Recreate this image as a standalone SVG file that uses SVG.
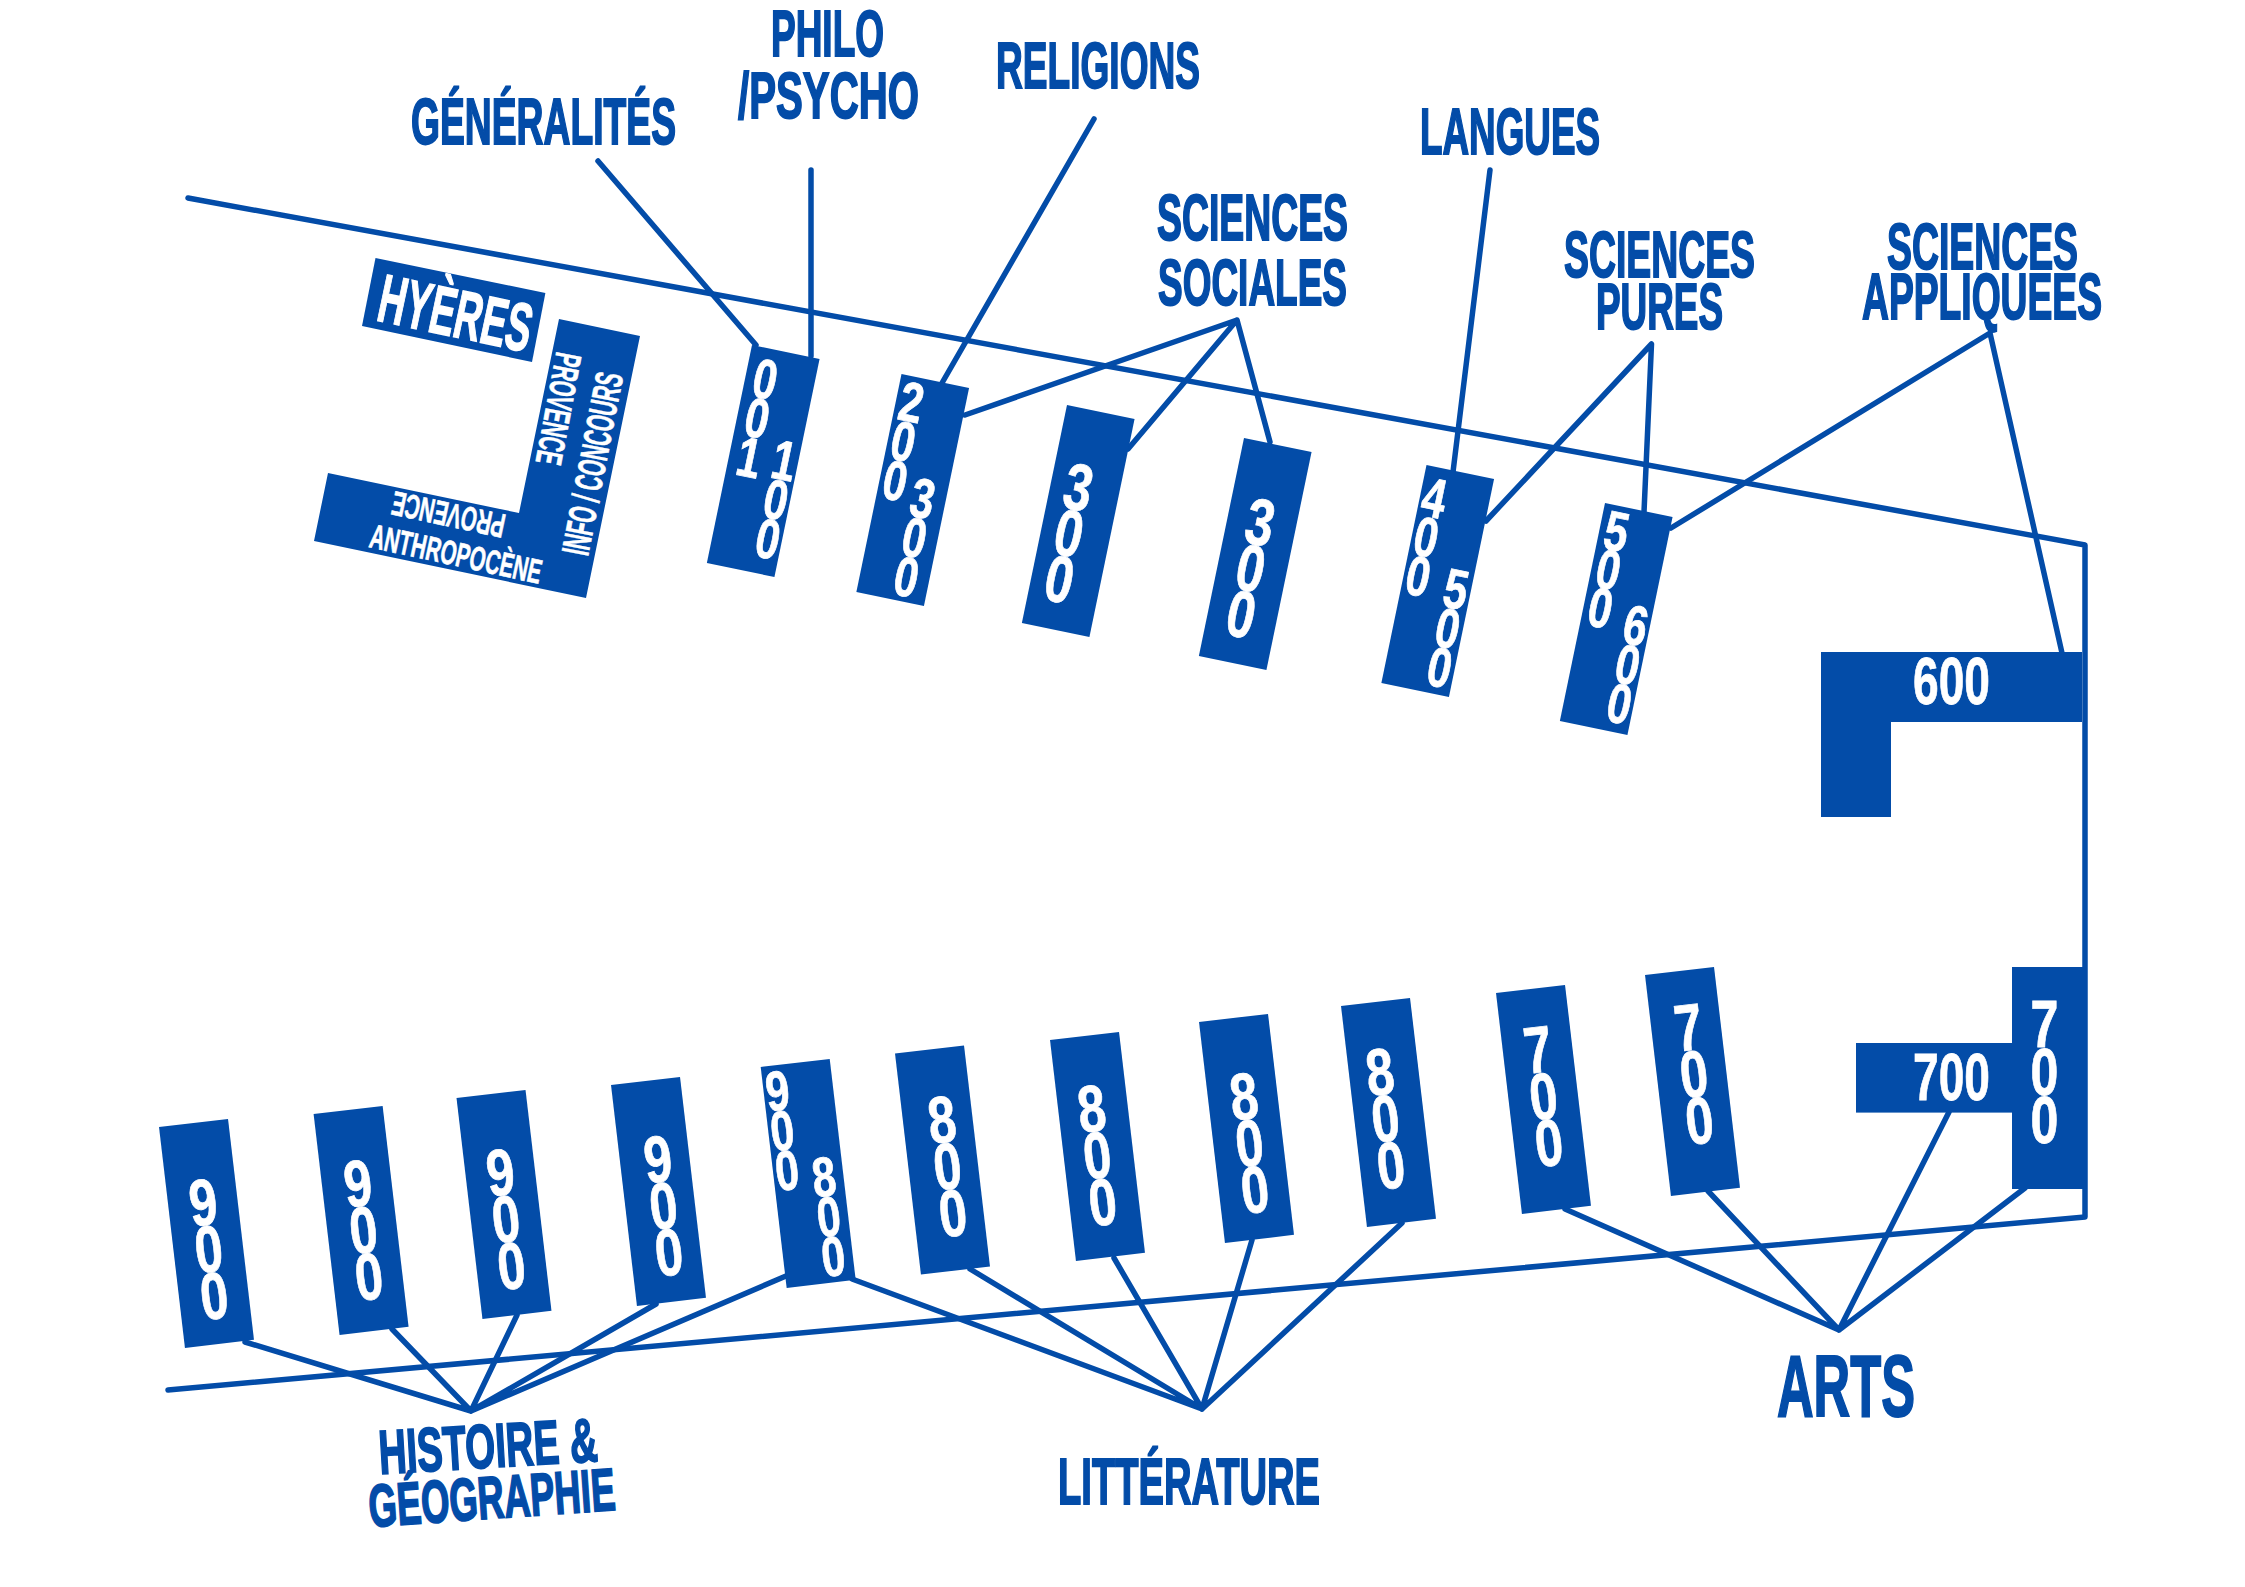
<svg xmlns="http://www.w3.org/2000/svg" width="2245" height="1587" viewBox="0 0 2245 1587">
<style>
.bg{fill:#fff}
.c{fill:none;stroke:#034CA8;stroke-width:5.5;stroke-linecap:round;stroke-linejoin:round}
.n{fill:#034CA8}
.l{font-family:"Liberation Sans",Arial,sans-serif;font-weight:700;fill:#034CA8;stroke:#034CA8;stroke-width:1.9;font-size:65px}
.w{font-family:"Liberation Sans",Arial,sans-serif;font-weight:700;fill:#fff}
.d{font-size:66px;text-anchor:middle;stroke:#fff;stroke-width:.8}
.s{font-size:56px;text-anchor:middle;stroke:#fff;stroke-width:.8}
</style>
<rect class="bg" width="2245" height="1587"/>
<g id="connectors" class="c">
<path d="M188 198L2085 545V1217L168 1390"/>
<path d="M598 161L756 345"/>
<path d="M811 170V356"/>
<path d="M1094 119L942 383"/>
<path d="M965 415L1237 320L1128 449M1237 320L1270 442"/>
<path d="M1490 170L1453 472"/>
<path d="M1486 521L1651.5 344L1644 512"/>
<path d="M1671 528L1990 333L2062 653"/>
<path d="M245 1342L471 1411L392 1329M471 1411L517 1315M471 1411L656 1304M471 1411L786 1276"/>
<path d="M852 1279L1202 1409L970 1269M1202 1409L1114 1258M1202 1409L1252 1240M1202 1409L1402 1223"/>
<path d="M1565 1209L1839 1330L1708 1191M1839 1330L1949 1112M1839 1330L2025 1188"/>
</g>
<g id="hyeres">
<polygon class="n" points="375.5,258 545.4,293 532,362 362,326"/>
<text class="w" transform="translate(375 320) rotate(12)" font-size="68" textLength="155" lengthAdjust="spacingAndGlyphs" stroke="#fff" stroke-width="1.4">HYÈRES</text>
</g>
<g id="info">
<polygon class="n" points="559,319 640,336 586,598 314,541 328,473 519,513"/>
<text class="w" transform="translate(588 557) rotate(-79)" font-size="39" textLength="185" lengthAdjust="spacingAndGlyphs" stroke="#fff" stroke-width=".6">INFO / CONCOURS</text>
<text class="w" transform="translate(556.6 351) rotate(100.7)" font-size="37" textLength="113" lengthAdjust="spacingAndGlyphs" stroke="#fff" stroke-width=".6">PROVENCE</text>
<text class="w" transform="translate(507 515) rotate(192)" font-size="34" textLength="115" lengthAdjust="spacingAndGlyphs" stroke="#fff" stroke-width=".6">PROVENCE</text>
<text class="w" transform="translate(368 547) rotate(12.2)" font-size="34" textLength="175" lengthAdjust="spacingAndGlyphs" stroke="#fff" stroke-width=".6">ANTHROPOCÈNE</text>
</g>
<g id="n-000-100" transform="translate(752 345) rotate(11.7)"><rect class="n" width="69" height="222.6"/>
<text class="w s" transform="translate(20 0) scale(.76 1)" x="0 0 0" y="50 90 130">001</text>
<text class="w s" transform="translate(55 0) scale(.76 1)" x="0 0 0" y="126 166 206">100</text></g>
<g id="n-200-300" transform="translate(901.5 374) rotate(11.7)"><rect class="n" width="69" height="222.6"/>
<text class="w s" transform="translate(15.5 0) scale(.76 1)" x="0 0 0" y="45 85 125">200</text>
<text class="w s" transform="translate(46 0) scale(.76 1)" x="0 0 0" y="137 177 217">300</text></g>
<g id="n-300a" transform="translate(1067 405) rotate(11.7)"><rect class="n" width="69" height="222.6"/>
<text class="w d" transform="translate(28 0) scale(.76 1)" x="0 0 0" y="101 148 195">300</text></g>
<g id="n-300b" transform="translate(1244 438) rotate(11.7)"><rect class="n" width="69" height="222.6"/>
<text class="w d" transform="translate(33 0) scale(.76 1)" x="0 0 0" y="102 149 196">300</text></g>
<g id="n-400-500" transform="translate(1426.5 465) rotate(11.7)"><rect class="n" width="69" height="222.6"/>
<text class="w s" transform="translate(14.4 0) scale(.76 1)" x="0 0 0" y="50 90 130">400</text>
<text class="w s" transform="translate(54 0) scale(.76 1)" x="0 0 0" y="135 175 215">500</text></g>
<g id="n-500-600" transform="translate(1605 503) rotate(11.7)"><rect class="n" width="69" height="222.6"/>
<text class="w s" transform="translate(17 0) scale(.76 1)" x="0 0 0" y="45 84 123">500</text>
<text class="w s" transform="translate(55 0) scale(.76 1)" x="0 0 0" y="133 173 213">600</text></g>
<g id="n-600">
<polygon class="n" points="1821,652 2082,652 2082,722 1891,722 1891,817 1821,817"/>
<text class="w" x="1913" y="704" font-size="66" textLength="77" lengthAdjust="spacingAndGlyphs" stroke="#fff" stroke-width=".8">600</text>
</g>
<g id="n-700-h">
<rect class="n" x="1856" y="1043" width="157" height="69.6"/>
<text class="w" x="1913" y="1099.5" font-size="66" textLength="77" lengthAdjust="spacingAndGlyphs" stroke="#fff" stroke-width=".8">700</text>
</g>
<g id="n-700-v">
<rect class="n" x="2012" y="967" width="74" height="222"/>
<text class="w d" transform="translate(2044.5 0) scale(.76 1)" x="0 0 0" y="1047 1095 1143">700</text>
</g>
<g id="n-900a" transform="translate(159 1127) rotate(-6.7)"><rect class="n" width="69.5" height="222.5"/>
<text class="w d" transform="translate(35 0) scale(.76 1)" x="0 0 0" y="103 150 197">900</text></g>
<g id="n-900b" transform="translate(313.6 1114) rotate(-6.7)"><rect class="n" width="69.5" height="222.5"/>
<text class="w d" transform="translate(36 0) scale(.76 1)" x="0 0 0" y="97 144 191">900</text></g>
<g id="n-900c" transform="translate(456.5 1098) rotate(-6.7)"><rect class="n" width="69.5" height="222.5"/>
<text class="w d" transform="translate(35 0) scale(.76 1)" x="0 0 0" y="102 149 196">900</text></g>
<g id="n-900d" transform="translate(611 1085) rotate(-6.7)"><rect class="n" width="69.5" height="222.5"/>
<text class="w d" transform="translate(38 0) scale(.76 1)" x="0 0 0" y="102 149 196">900</text></g>
<g id="n-900-800" transform="translate(760.7 1067) rotate(-6.7)"><rect class="n" width="69.5" height="222.5"/>
<text class="w s" transform="translate(14 0) scale(.76 1)" x="0 0 0" y="45 85 125">900</text>
<text class="w s" transform="translate(50 0) scale(.76 1)" x="0 0 0" y="136 176 216">800</text></g>
<g id="n-800a" transform="translate(895 1053.6) rotate(-6.7)"><rect class="n" width="69.5" height="222.5"/>
<text class="w d" transform="translate(39 0) scale(.76 1)" x="0 0 0" y="94 141 188">800</text></g>
<g id="n-800b" transform="translate(1050 1040) rotate(-6.7)"><rect class="n" width="69.5" height="222.5"/>
<text class="w d" transform="translate(33.4 0) scale(.76 1)" x="0 0 0" y="96 143 190">800</text></g>
<g id="n-800c" transform="translate(1199 1022) rotate(-6.7)"><rect class="n" width="69.5" height="222.5"/>
<text class="w d" transform="translate(36 0) scale(.76 1)" x="0 0 0" y="102 149 196">800</text></g>
<g id="n-800d" transform="translate(1341 1006) rotate(-6.7)"><rect class="n" width="69.5" height="222.5"/>
<text class="w d" transform="translate(31 0) scale(.76 1)" x="0 0 0" y="93 140 187">800</text></g>
<g id="n-700a" transform="translate(1496 993) rotate(-6.7)"><rect class="n" width="69.5" height="222.5"/>
<text class="w d" transform="translate(35 0) scale(.76 1)" x="0 0 0" y="84 131 178">700</text></g>
<g id="n-700b" transform="translate(1645 975) rotate(-6.7)"><rect class="n" width="69.5" height="222.5"/>
<text class="w d" transform="translate(37 0) scale(.76 1)" x="0 0 0" y="80 127 174">700</text></g>
<g id="labels">
<text class="l" x="411" y="144" textLength="265" lengthAdjust="spacingAndGlyphs">GÉNÉRALITÉS</text>
<text class="l" x="771" y="56" textLength="113" lengthAdjust="spacingAndGlyphs">PHILO</text>
<text class="l" x="738" y="118" textLength="181" lengthAdjust="spacingAndGlyphs">/PSYCHO</text>
<text class="l" x="996" y="88" textLength="204" lengthAdjust="spacingAndGlyphs">RELIGIONS</text>
<text class="l" x="1420" y="154" textLength="180" lengthAdjust="spacingAndGlyphs">LANGUES</text>
<text class="l" x="1157" y="240" textLength="191" lengthAdjust="spacingAndGlyphs">SCIENCES</text>
<text class="l" x="1158" y="304.6" textLength="189" lengthAdjust="spacingAndGlyphs">SOCIALES</text>
<text class="l" x="1564" y="277" textLength="191" lengthAdjust="spacingAndGlyphs">SCIENCES</text>
<text class="l" x="1596" y="329" textLength="127" lengthAdjust="spacingAndGlyphs">PURES</text>
<text class="l" x="1887" y="269" textLength="191" lengthAdjust="spacingAndGlyphs">SCIENCES</text>
<text class="l" x="1862" y="319" textLength="240" lengthAdjust="spacingAndGlyphs">APPLIQUEES</text>
<text class="l" x="1777" y="1416" textLength="138" lengthAdjust="spacingAndGlyphs" style="font-size:87px">ARTS</text>
<text class="l" x="1058" y="1504" textLength="262" lengthAdjust="spacingAndGlyphs">LITTÉRATURE</text>
<text class="l" transform="translate(380 1474) rotate(-3.4)" textLength="219" lengthAdjust="spacingAndGlyphs" style="font-size:62px">HISTOIRE &amp;</text>
<text class="l" transform="translate(370 1527) rotate(-4)" textLength="247" lengthAdjust="spacingAndGlyphs" style="font-size:60px">GÉOGRAPHIE</text>
</g>
</svg>
